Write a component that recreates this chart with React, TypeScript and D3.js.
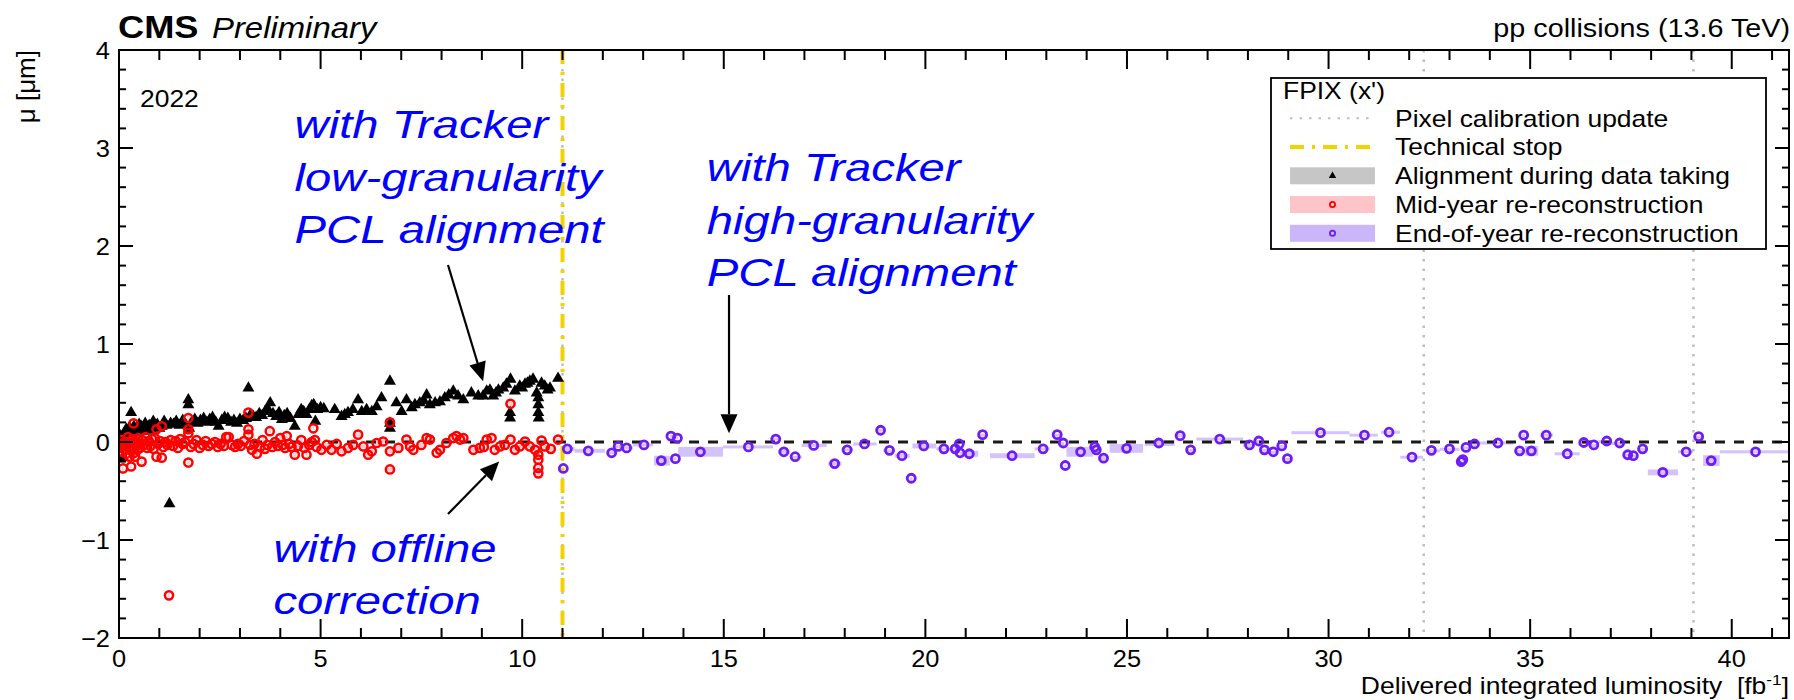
import React from "react";
import * as d3 from "d3";

const W = 1794;
const H = 700;
const SX = 1.15; // horizontal stretch of the original picture's text
const FONT = "'Liberation Sans', Arial, Helvetica, sans-serif";

const plot = { left: 119, right: 1789, top: 50, bottom: 638 };
const xDomain: [number, number] = [0, 41.42];
const yDomain: [number, number] = [-2, 4];
const xMajorTicks = [0, 5, 10, 15, 20, 25, 30, 35, 40];
const yMajorTicks = [-2, -1, 0, 1, 2, 3, 4];
const yTickLabels = ["\u22122", "\u22121", "0", "1", "2", "3", "4"];

const pixelCalibration = [11.0, 32.36, 39.05];
const technicalStop = [11.0];

// Alignment during data taking: [lumi, mu]
const alignmentPoints: [number, number][] = [
  [0.02, 0.07], [0.05, 0.02], [0.08, -0.05], [0.11, -0.16], [0.14, 0.1], [0.18, 0.13], [0.22, 0.08],
  [0.26, 0.15], [0.3, 0.3], [0.33, 0.12], [0.37, 0.16], [0.41, 0.1], [0.45, 0.14], [0.5, 0.18],
  [0.55, 0.16], [0.6, 0.11], [0.65, 0.19], [0.7, 0.13], [0.75, 0.17], [0.8, 0.12], [0.85, 0.21],
  [0.9, 0.15], [0.95, 0.18], [1.0, 0.14], [1.06, 0.16], [1.12, 0.21], [1.18, 0.17], [1.25, -0.63],
  [1.28, 0.19], [1.35, 0.18], [1.42, 0.21], [1.5, 0.17], [1.58, 0.22], [1.65, 0.18], [1.72, 0.43],
  [1.72, 0.38], [1.74, 0.14], [1.8, 0.2], [1.88, 0.23], [1.95, 0.19], [2.02, 0.22], [2.1, 0.24],
  [2.18, 0.2], [2.25, 0.23], [2.32, 0.25], [2.4, 0.2], [2.47, 0.16], [2.55, 0.22], [2.62, 0.25],
  [2.7, 0.24], [2.78, 0.2], [2.85, 0.22], [2.93, 0.19], [3.0, 0.23], [3.08, 0.22], [3.15, 0.24],
  [3.21, 0.55], [3.25, 0.27], [3.33, 0.26], [3.4, 0.25], [3.48, 0.29], [3.55, 0.27], [3.62, 0.31],
  [3.7, 0.33], [3.75, 0.4], [3.82, 0.29], [3.9, 0.26], [3.97, 0.3], [4.04, 0.23], [4.1, 0.27],
  [4.17, 0.29], [4.25, 0.24], [4.36, 0.16], [4.45, 0.28], [4.52, 0.33], [4.58, 0.31], [4.65, 0.28],
  [4.72, 0.33], [4.78, 0.37], [4.83, 0.38], [4.87, 0.21], [4.92, 0.33], [5.0, 0.35], [5.08, 0.34],
  [5.35, 0.33], [5.52, 0.26], [5.6, 0.28], [5.68, 0.3], [5.8, 0.33], [5.93, 0.43], [6.02, 0.31],
  [6.14, 0.33], [6.27, 0.31], [6.39, 0.36], [6.51, 0.45], [6.72, 0.62], [6.72, 0.19], [6.72, 0.14],
  [6.88, 0.4], [7.01, 0.31], [7.13, 0.43], [7.26, 0.35], [7.34, 0.38], [7.46, 0.4], [7.56, 0.42],
  [7.63, 0.48], [7.71, 0.38], [7.84, 0.4], [7.96, 0.41], [8.08, 0.45], [8.18, 0.48], [8.29, 0.52],
  [8.41, 0.47], [8.54, 0.43], [8.74, 0.5], [8.91, 0.47], [9.03, 0.47], [9.12, 0.52], [9.2, 0.53],
  [9.28, 0.47], [9.35, 0.5], [9.41, 0.53], [9.53, 0.55], [9.61, 0.59], [9.71, 0.64], [9.7, 0.3],
  [9.7, 0.245], [9.82, 0.52], [9.94, 0.57], [10.0, 0.55], [10.07, 0.59], [10.13, 0.6], [10.19, 0.62],
  [10.27, 0.64], [10.36, 0.5], [10.4, 0.45], [10.4, 0.38], [10.4, 0.3], [10.41, 0.245], [10.48, 0.6],
  [10.56, 0.57], [10.63, 0.53], [10.69, 0.55], [10.89, 0.65],
];

// Mid-year re-reconstruction: [lumi, mu]
const midYearPoints: [number, number][] = [
  [0.02, -0.02], [0.04, -0.06], [0.06, 0.02], [0.08, -0.1], [0.1, -0.27], [0.12, -0.04], [0.14, 0.0],
  [0.16, -0.08], [0.18, -0.12], [0.2, -0.03], [0.22, 0.05], [0.24, -0.06], [0.26, -0.15], [0.28, -0.01],
  [0.3, -0.25], [0.31, -0.09], [0.33, 0.03], [0.35, -0.05], [0.36, 0.19], [0.38, -0.11], [0.4, -0.15],
  [0.42, 0.01], [0.44, -0.04], [0.46, -0.08], [0.48, 0.04], [0.5, -0.02], [0.52, -0.06], [0.56, -0.2],
  [0.58, 0.02], [0.62, -0.03], [0.66, 0.05], [0.7, -0.06], [0.74, 0.01], [0.78, -0.04], [0.82, 0.03],
  [0.86, -0.07], [0.89, 0.04], [0.93, 0.13], [0.93, -0.15], [0.97, -0.02], [1.02, 0.01], [1.06, 0.16],
  [1.06, -0.16], [1.1, -0.05], [1.15, 0.0], [1.2, -0.03], [1.24, -1.565], [1.28, 0.02], [1.34, -0.04],
  [1.4, 0.01], [1.46, -0.06], [1.52, 0.03], [1.58, -0.02], [1.64, 0.0], [1.72, 0.245], [1.72, 0.13],
  [1.72, 0.09], [1.72, -0.21], [1.78, -0.05], [1.85, -0.02], [1.92, 0.02], [2.0, -0.06], [2.08, -0.03],
  [2.15, 0.01], [2.22, -0.04], [2.3, -0.02], [2.38, 0.0], [2.45, -0.05], [2.52, -0.02], [2.6, -0.04],
  [2.66, 0.05], [2.72, 0.05], [2.8, -0.03], [2.88, -0.05], [2.95, -0.02], [3.02, -0.04], [3.1, 0.01],
  [3.21, 0.3], [3.21, 0.13], [3.21, 0.075], [3.25, -0.03], [3.3, -0.08], [3.36, -0.02], [3.42, -0.12],
  [3.5, -0.05], [3.56, 0.02], [3.62, -0.07], [3.68, -0.03], [3.74, 0.11], [3.8, -0.05], [3.87, 0.0],
  [3.94, -0.04], [4.0, 0.04], [4.06, -0.03], [4.12, -0.06], [4.16, 0.06], [4.22, -0.02], [4.28, -0.05],
  [4.36, -0.13], [4.44, -0.04], [4.52, 0.02], [4.6, -0.06], [4.65, -0.13], [4.72, -0.03], [4.78, 0.0],
  [4.82, 0.14], [4.86, 0.02], [4.9, -0.05], [5.02, -0.08], [5.15, -0.03], [5.27, -0.08], [5.4, -0.02],
  [5.52, -0.095], [5.68, -0.06], [5.81, -0.03], [5.93, 0.075], [6.06, -0.045], [6.18, -0.13],
  [6.27, -0.095], [6.39, -0.01], [6.55, 0.005], [6.72, -0.095], [6.72, -0.28], [6.72, 0.2], [6.93, -0.06],
  [7.13, 0.025], [7.22, -0.045], [7.3, -0.08], [7.5, -0.03], [7.63, 0.04], [7.71, 0.025], [7.88, -0.11],
  [7.96, -0.08], [8.12, -0.01], [8.29, 0.04], [8.37, 0.06], [8.46, 0.025], [8.54, 0.04], [8.79, -0.08],
  [8.95, -0.06], [9.05, -0.05], [9.12, 0.025], [9.24, 0.04], [9.32, -0.08], [9.45, -0.045], [9.57, -0.03],
  [9.71, 0.025], [9.71, 0.39], [9.82, -0.08], [9.94, -0.045], [10.07, 0.005], [10.19, -0.045],
  [10.32, -0.08], [10.4, -0.13], [10.4, -0.18], [10.4, -0.265], [10.4, -0.32], [10.48, 0.015],
  [10.56, -0.045], [10.71, -0.07], [10.89, 0.025],
];

// End-of-year re-reconstruction: [lumi, mu, runStart, runEnd, muError]
const endOfYearPoints: [number, number, number, number, number][] = [
  [11.02, -0.27, 11.0, 11.04, 0.01], [11.12, -0.07, 11.02, 11.3, 0.02], [11.64, -0.09, 11.3, 12.05, 0.02],
  [12.22, -0.11, 12.1, 12.3, 0.015], [12.38, -0.045, 12.3, 12.45, 0.015], [12.59, -0.06, 12.45, 12.75, 0.015],
  [13.02, -0.03, 12.75, 13.25, 0.015], [13.45, -0.19, 13.27, 13.66, 0.05], [13.69, 0.06, 13.66, 13.75, 0.015],
  [13.8, -0.17, 13.75, 13.82, 0.015], [13.85, 0.04, 13.82, 13.87, 0.015], [14.42, -0.1, 13.87, 14.98, 0.05],
  [15.61, -0.05, 14.98, 16.22, 0.015], [16.29, 0.03, 16.22, 16.35, 0.015], [16.49, -0.1, 16.35, 16.64, 0.02],
  [16.77, -0.15, 16.64, 16.93, 0.01], [17.23, -0.035, 16.93, 17.55, 0.015], [17.75, -0.22, 17.59, 17.92, 0.02],
  [18.06, -0.08, 17.92, 18.21, 0.015], [18.49, -0.02, 18.21, 18.79, 0.015], [18.89, 0.12, 18.79, 18.95, 0.015],
  [19.11, -0.085, 18.95, 19.24, 0.01], [19.42, -0.14, 19.24, 19.61, 0.02], [19.65, -0.37, 19.61, 19.68, 0.01],
  [19.96, -0.04, 19.68, 20.27, 0.025], [20.46, -0.07, 20.27, 20.56, 0.015], [20.74, -0.07, 20.56, 20.78, 0.01],
  [20.84, -0.02, 20.78, 20.86, 0.01], [20.86, -0.11, 20.86, 20.9, 0.01], [21.09, -0.12, 20.9, 21.31, 0.03],
  [21.42, 0.075, 21.31, 21.55, 0.01], [22.15, -0.14, 21.6, 22.71, 0.025], [22.92, -0.07, 22.71, 23.08, 0.015],
  [23.27, 0.075, 23.2, 23.35, 0.01], [23.42, -0.01, 23.35, 23.45, 0.01], [23.47, -0.24, 23.45, 23.5, 0.01],
  [23.85, -0.1, 23.5, 24.16, 0.05], [24.2, -0.05, 24.16, 24.22, 0.01], [24.24, -0.08, 24.22, 24.28, 0.01],
  [24.42, -0.165, 24.28, 24.53, 0.025], [24.99, -0.065, 24.57, 25.4, 0.045], [25.79, -0.01, 25.44, 26.18, 0.03],
  [26.32, 0.065, 26.18, 26.45, 0.015], [26.58, -0.08, 26.45, 26.72, 0.01], [27.3, 0.03, 26.72, 27.88, 0.015],
  [28.04, -0.03, 27.88, 28.15, 0.01], [28.27, 0.01, 28.15, 28.35, 0.01], [28.41, -0.08, 28.35, 28.5, 0.01],
  [28.63, -0.1, 28.5, 28.75, 0.01], [28.84, -0.04, 28.75, 28.9, 0.01], [28.98, -0.17, 28.9, 29.08, 0.01],
  [29.8, 0.095, 29.08, 30.52, 0.015], [30.89, 0.07, 30.52, 31.22, 0.015], [31.5, 0.1, 31.3, 31.77, 0.015],
  [32.07, -0.155, 31.78, 32.34, 0.015], [32.55, -0.085, 32.4, 32.76, 0.01], [33.0, -0.07, 32.76, 33.25, 0.01],
  [33.29, -0.2, 33.25, 33.31, 0.01], [33.33, -0.18, 33.31, 33.36, 0.01], [33.41, -0.055, 33.36, 33.5, 0.01],
  [33.62, -0.02, 33.5, 33.67, 0.01], [34.2, -0.01, 33.67, 34.58, 0.015], [34.74, -0.09, 34.6, 34.8, 0.01],
  [34.84, 0.07, 34.8, 34.87, 0.01], [35.03, -0.09, 34.87, 35.2, 0.05], [35.4, 0.07, 35.24, 35.57, 0.015],
  [35.92, -0.12, 35.61, 36.23, 0.015], [36.33, -0.005, 36.23, 36.45, 0.01], [36.58, -0.03, 36.45, 36.7, 0.01],
  [36.9, 0.01, 36.7, 36.97, 0.01], [37.22, -0.01, 36.97, 37.3, 0.01], [37.42, -0.13, 37.3, 37.48, 0.01],
  [37.56, -0.14, 37.48, 37.65, 0.01], [37.79, -0.07, 37.65, 37.92, 0.01], [38.29, -0.31, 37.92, 38.67, 0.03],
  [38.87, -0.1, 38.67, 39.04, 0.015], [39.18, 0.055, 39.05, 39.29, 0.01], [39.49, -0.19, 39.29, 39.7, 0.055],
  [40.59, -0.1, 39.7, 41.42, 0.015],
];

const legendTitle = "FPIX (x')";
const legendLabels = [
  "Pixel calibration update",
  "Technical stop",
  "Alignment during data taking",
  "Mid-year re-reconstruction",
  "End-of-year re-reconstruction",
];

// annotations in data coordinates
const annotationBlocks = [
  { lumi: 4.355, mu: 3.1, lines: ["with Tracker", "low-granularity", "PCL alignment"] },
  { lumi: 14.58, mu: 2.663, lines: ["with Tracker", "high-granularity", "PCL alignment"] },
  { lumi: 3.83, mu: -1.221, lines: ["with offline", "correction"] },
];
const annotationArrows = [
  { from: [8.16, 1.806], to: [9.03, 0.62] },
  { from: [8.16, -0.735], to: [9.43, -0.2] },
  { from: [15.13, 1.5], to: [15.13, 0.09] },
];

const COL = {
  red: "#ff0000",
  purple: "#6e1cf5",
  purpleBand: "rgba(150,110,245,0.42)",
  grayBand: "rgba(160,160,160,0.55)",
  pinkBand: "rgba(255,150,160,0.5)",
  yellow: "#f2d200",
  calib: "#bdbdbd",
  blue: "#0000ff",
};

function T(props: any) {
  const { x, y, size, anchor = "start", weight = "normal", italic = false, fill = "#000", sx = SX, children } = props;
  return (
    <text
      transform={`translate(${x},${y}) scale(${sx},1)`}
      fontSize={size}
      textAnchor={anchor}
      fontWeight={weight}
      fontStyle={italic ? "italic" : "normal"}
      fill={fill}
      fontFamily={FONT}
      style={{ whiteSpace: "pre" }}
    >
      {children}
    </text>
  );
}

function bandHalfWidths(pts: [number, number][]) {
  const xs = Array.from(new Set(pts.map((p) => p[0]))).sort((a, b) => a - b);
  const m = new Map<number, number>();
  xs.forEach((v, i) => {
    const prev = i > 0 ? v - xs[i - 1] : 0.1;
    const next = i < xs.length - 1 ? xs[i + 1] - v : 0.1;
    m.set(v, Math.max(0.02, Math.min(prev, next, 0.2) / 2));
  });
  return m;
}

export default function App() {
  const x = d3.scaleLinear().domain(xDomain).range([plot.left, plot.right]);
  const y = d3.scaleLinear().domain(yDomain).range([plot.bottom, plot.top]);

  const xMinor = d3.range(0, xDomain[1], 1).filter((v) => !xMajorTicks.includes(v));
  const yMinor = d3.range(yDomain[0], yDomain[1] + 0.001, 0.2).filter((v) => Math.abs(v - Math.round(v)) > 0.01);

  const tri = d3.symbol(d3.symbolTriangle, 62)() as string;
  const triSmall = d3.symbol(d3.symbolTriangle, 24)() as string;

  const hwAlign = bandHalfWidths(alignmentPoints);
  const hwMid = bandHalfWidths(midYearPoints);

  const arrowHead = (x1: number, y1: number, x2: number, y2: number) => {
    const ang = Math.atan2(y2 - y1, x2 - x1);
    const len = 19;
    const half = 8.5;
    const bx = x2 - len * Math.cos(ang);
    const by = y2 - len * Math.sin(ang);
    const px = -Math.sin(ang) * half;
    const py = Math.cos(ang) * half;
    return { pts: `${x2},${y2} ${bx + px},${by + py} ${bx - px},${by - py}`, bx, by };
  };

  const legX = 1271;
  const legY = 78;
  const legW = 495;
  const legH = 171;
  const rowY = (i: number) => 118.3 + i * 28.75;
  const symX0 = 1290;
  const symX1 = 1375;
  const symXC = (symX0 + symX1) / 2;
  const legTextX = 1395;

  return (
    <svg
      width={W}
      height={H}
      viewBox={`0 0 ${W} ${H}`}
      style={{ position: "absolute", left: 0, top: 0, background: "#fff" }}
    >
      <rect x={0} y={0} width={W} height={H} fill="#fff" />
      <defs>
        <clipPath id="plotclip">
          <rect x={plot.left} y={plot.top} width={plot.right - plot.left} height={plot.bottom - plot.top} />
        </clipPath>
      </defs>

      <g clipPath="url(#plotclip)">
        {/* bands */}
        {alignmentPoints.map((p, i) => {
          const hw = hwAlign.get(p[0]) as number;
          return (
            <rect key={"ga" + i} x={x(p[0] - hw)} y={y(p[1] + 0.025)} width={x(p[0] + hw) - x(p[0] - hw)}
              height={y(p[1] - 0.025) - y(p[1] + 0.025)} fill={COL.grayBand} />
          );
        })}
        {midYearPoints.map((p, i) => {
          const hw = hwMid.get(p[0]) as number;
          return (
            <rect key={"gm" + i} x={x(p[0] - hw)} y={y(p[1] + 0.02)} width={x(p[0] + hw) - x(p[0] - hw)}
              height={y(p[1] - 0.02) - y(p[1] + 0.02)} fill={COL.pinkBand} />
          );
        })}
        {endOfYearPoints.map((p, i) => (
          <rect key={"gp" + i} x={x(p[2])} y={y(p[1] + p[4])} width={Math.max(1, x(p[3]) - x(p[2]))}
            height={Math.max(3, y(p[1] - p[4]) - y(p[1] + p[4]))} fill={COL.purpleBand} />
        ))}

        {/* vertical lines */}
        {pixelCalibration.map((v, i) => (
          <line key={"pc" + i} x1={x(v)} x2={x(v)} y1={plot.top} y2={plot.bottom}
            stroke={COL.calib} strokeWidth={2.5} strokeDasharray="2.5,7" />
        ))}
        {technicalStop.map((v, i) => (
          <line key={"ts" + i} x1={x(v)} x2={x(v)} y1={plot.top} y2={plot.bottom}
            stroke={COL.yellow} strokeWidth={4} strokeDasharray="14,8,3,8" />
        ))}

        {/* zero line */}
        <line x1={x(xDomain[0])} x2={x(xDomain[1])} y1={y(0)} y2={y(0)} stroke="#1a1a1a" strokeWidth={2.8} strokeDasharray="10,9" />

        {/* markers */}
        {alignmentPoints.map((p, i) => (
          <path key={"ta" + i} d={tri} transform={`translate(${x(p[0])},${y(p[1])})`} fill="#000" />
        ))}
        {midYearPoints.map((p, i) => (
          <circle key={"cm" + i} cx={x(p[0])} cy={y(p[1])} r={4.1} fill="none" stroke={COL.red} strokeWidth={2.5} />
        ))}
        {endOfYearPoints.map((p, i) => (
          <circle key={"cp" + i} cx={x(p[0])} cy={y(p[1])} r={4.0} fill="none" stroke={COL.purple} strokeWidth={2.8} />
        ))}
      </g>

      {/* frame */}
      <rect x={plot.left} y={plot.top} width={plot.right - plot.left} height={plot.bottom - plot.top}
        fill="none" stroke="#000" strokeWidth={2} />

      {/* x ticks */}
      {xMajorTicks.map((v) => (
        <g key={"xm" + v}>
          <line x1={x(v)} x2={x(v)} y1={plot.bottom} y2={plot.bottom - 19} stroke="#000" strokeWidth={2} />
          <line x1={x(v)} x2={x(v)} y1={plot.top} y2={plot.top + 19} stroke="#000" strokeWidth={2} />
          <T x={x(v)} y={667} size={24} sx={1.06} anchor="middle">{String(v)}</T>
        </g>
      ))}
      {xMinor.map((v) => (
        <g key={"xn" + v}>
          <line x1={x(v)} x2={x(v)} y1={plot.bottom} y2={plot.bottom - 10} stroke="#000" strokeWidth={2} />
          <line x1={x(v)} x2={x(v)} y1={plot.top} y2={plot.top + 10} stroke="#000" strokeWidth={2} />
        </g>
      ))}
      {/* y ticks */}
      {yMajorTicks.map((v, i) => (
        <g key={"ym" + v}>
          <line x1={plot.left} x2={plot.left + 14} y1={y(v)} y2={y(v)} stroke="#000" strokeWidth={2} />
          <line x1={plot.right} x2={plot.right - 14} y1={y(v)} y2={y(v)} stroke="#000" strokeWidth={2} />
          <T x={110} y={y(v) + 8.5} size={24} sx={1.06} anchor="end">{yTickLabels[i]}</T>
        </g>
      ))}
      {yMinor.map((v, i) => (
        <g key={"yn" + i}>
          <line x1={plot.left} x2={plot.left + 7} y1={y(v)} y2={y(v)} stroke="#000" strokeWidth={2} />
          <line x1={plot.right} x2={plot.right - 7} y1={y(v)} y2={y(v)} stroke="#000" strokeWidth={2} />
        </g>
      ))}

      {/* axis titles */}
      <text transform="translate(35,50) rotate(-90)" fontSize={26} textAnchor="end" fontFamily={FONT} fill="#000">
        {"\u03bc [\u03bcm]"}
      </text>
      <text transform={`translate(1789,694) scale(${SX},1)`} fontSize={23} textAnchor="end" fontFamily={FONT}
        fill="#000" style={{ whiteSpace: "pre" }}>
        {"Delivered integrated luminosity  [fb"}
        <tspan dy={-9} fontSize={15}>{"-1"}</tspan>
        <tspan dy={9}>{"]"}</tspan>
      </text>

      {/* header */}
      <T x={118} y={38} size={31.5} weight="bold">CMS</T>
      <T x={212} y={38} size={28.6} italic>Preliminary</T>
      <T x={1790} y={37} size={25} anchor="end">pp collisions (13.6 TeV)</T>
      <T x={140} y={107} size={23}>2022</T>

      {/* annotations */}
      {annotationBlocks.map((b, bi) => (
        <g key={"ab" + bi}>
          {b.lines.map((ln, li) => (
            <T key={li} x={x(b.lumi)} y={y(b.mu) + li * 52.5} size={39.7} sx={1.19} italic fill={COL.blue}>{ln}</T>
          ))}
        </g>
      ))}
      {annotationArrows.map((a, i) => {
        const x1 = x(a.from[0]);
        const y1 = y(a.from[1]);
        const x2 = x(a.to[0]);
        const y2 = y(a.to[1]);
        const h = arrowHead(x1, y1, x2, y2);
        return (
          <g key={"ar" + i}>
            <line x1={x1} y1={y1} x2={h.bx} y2={h.by} stroke="#000" strokeWidth={2.2} />
            <polygon points={h.pts} fill="#000" />
          </g>
        );
      })}

      {/* legend */}
      <rect x={legX} y={legY} width={legW} height={legH} fill="#fff" stroke="#000" strokeWidth={1.8} />
      <T x={1283} y={99} size={23}>{legendTitle}</T>
      <line x1={symX0} x2={symX1} y1={rowY(0)} y2={rowY(0)} stroke={COL.calib} strokeWidth={2} strokeDasharray="2.5,7" />
      <line x1={symX0} x2={symX1} y1={rowY(1)} y2={rowY(1)} stroke={COL.yellow} strokeWidth={4} strokeDasharray="14,8,3,8" />
      <rect x={symX0} y={rowY(2) - 8.5} width={symX1 - symX0} height={17} fill="#c6c6c6" />
      <path d={triSmall} transform={`translate(${symXC},${rowY(2)})`} fill="#000" />
      <rect x={symX0} y={rowY(3) - 8.5} width={symX1 - symX0} height={17} fill="#ffc4c8" />
      <circle cx={symXC} cy={rowY(3)} r={2.6} fill="none" stroke={COL.red} strokeWidth={1.8} />
      <rect x={symX0} y={rowY(4) - 8.5} width={symX1 - symX0} height={17} fill="#cbb6f9" />
      <circle cx={symXC} cy={rowY(4)} r={2.6} fill="none" stroke={COL.purple} strokeWidth={1.8} />
      {legendLabels.map((l, i) => (
        <T key={"ll" + i} x={legTextX} y={rowY(i) + 8.3} size={23}>{l}</T>
      ))}
    </svg>
  );
}
